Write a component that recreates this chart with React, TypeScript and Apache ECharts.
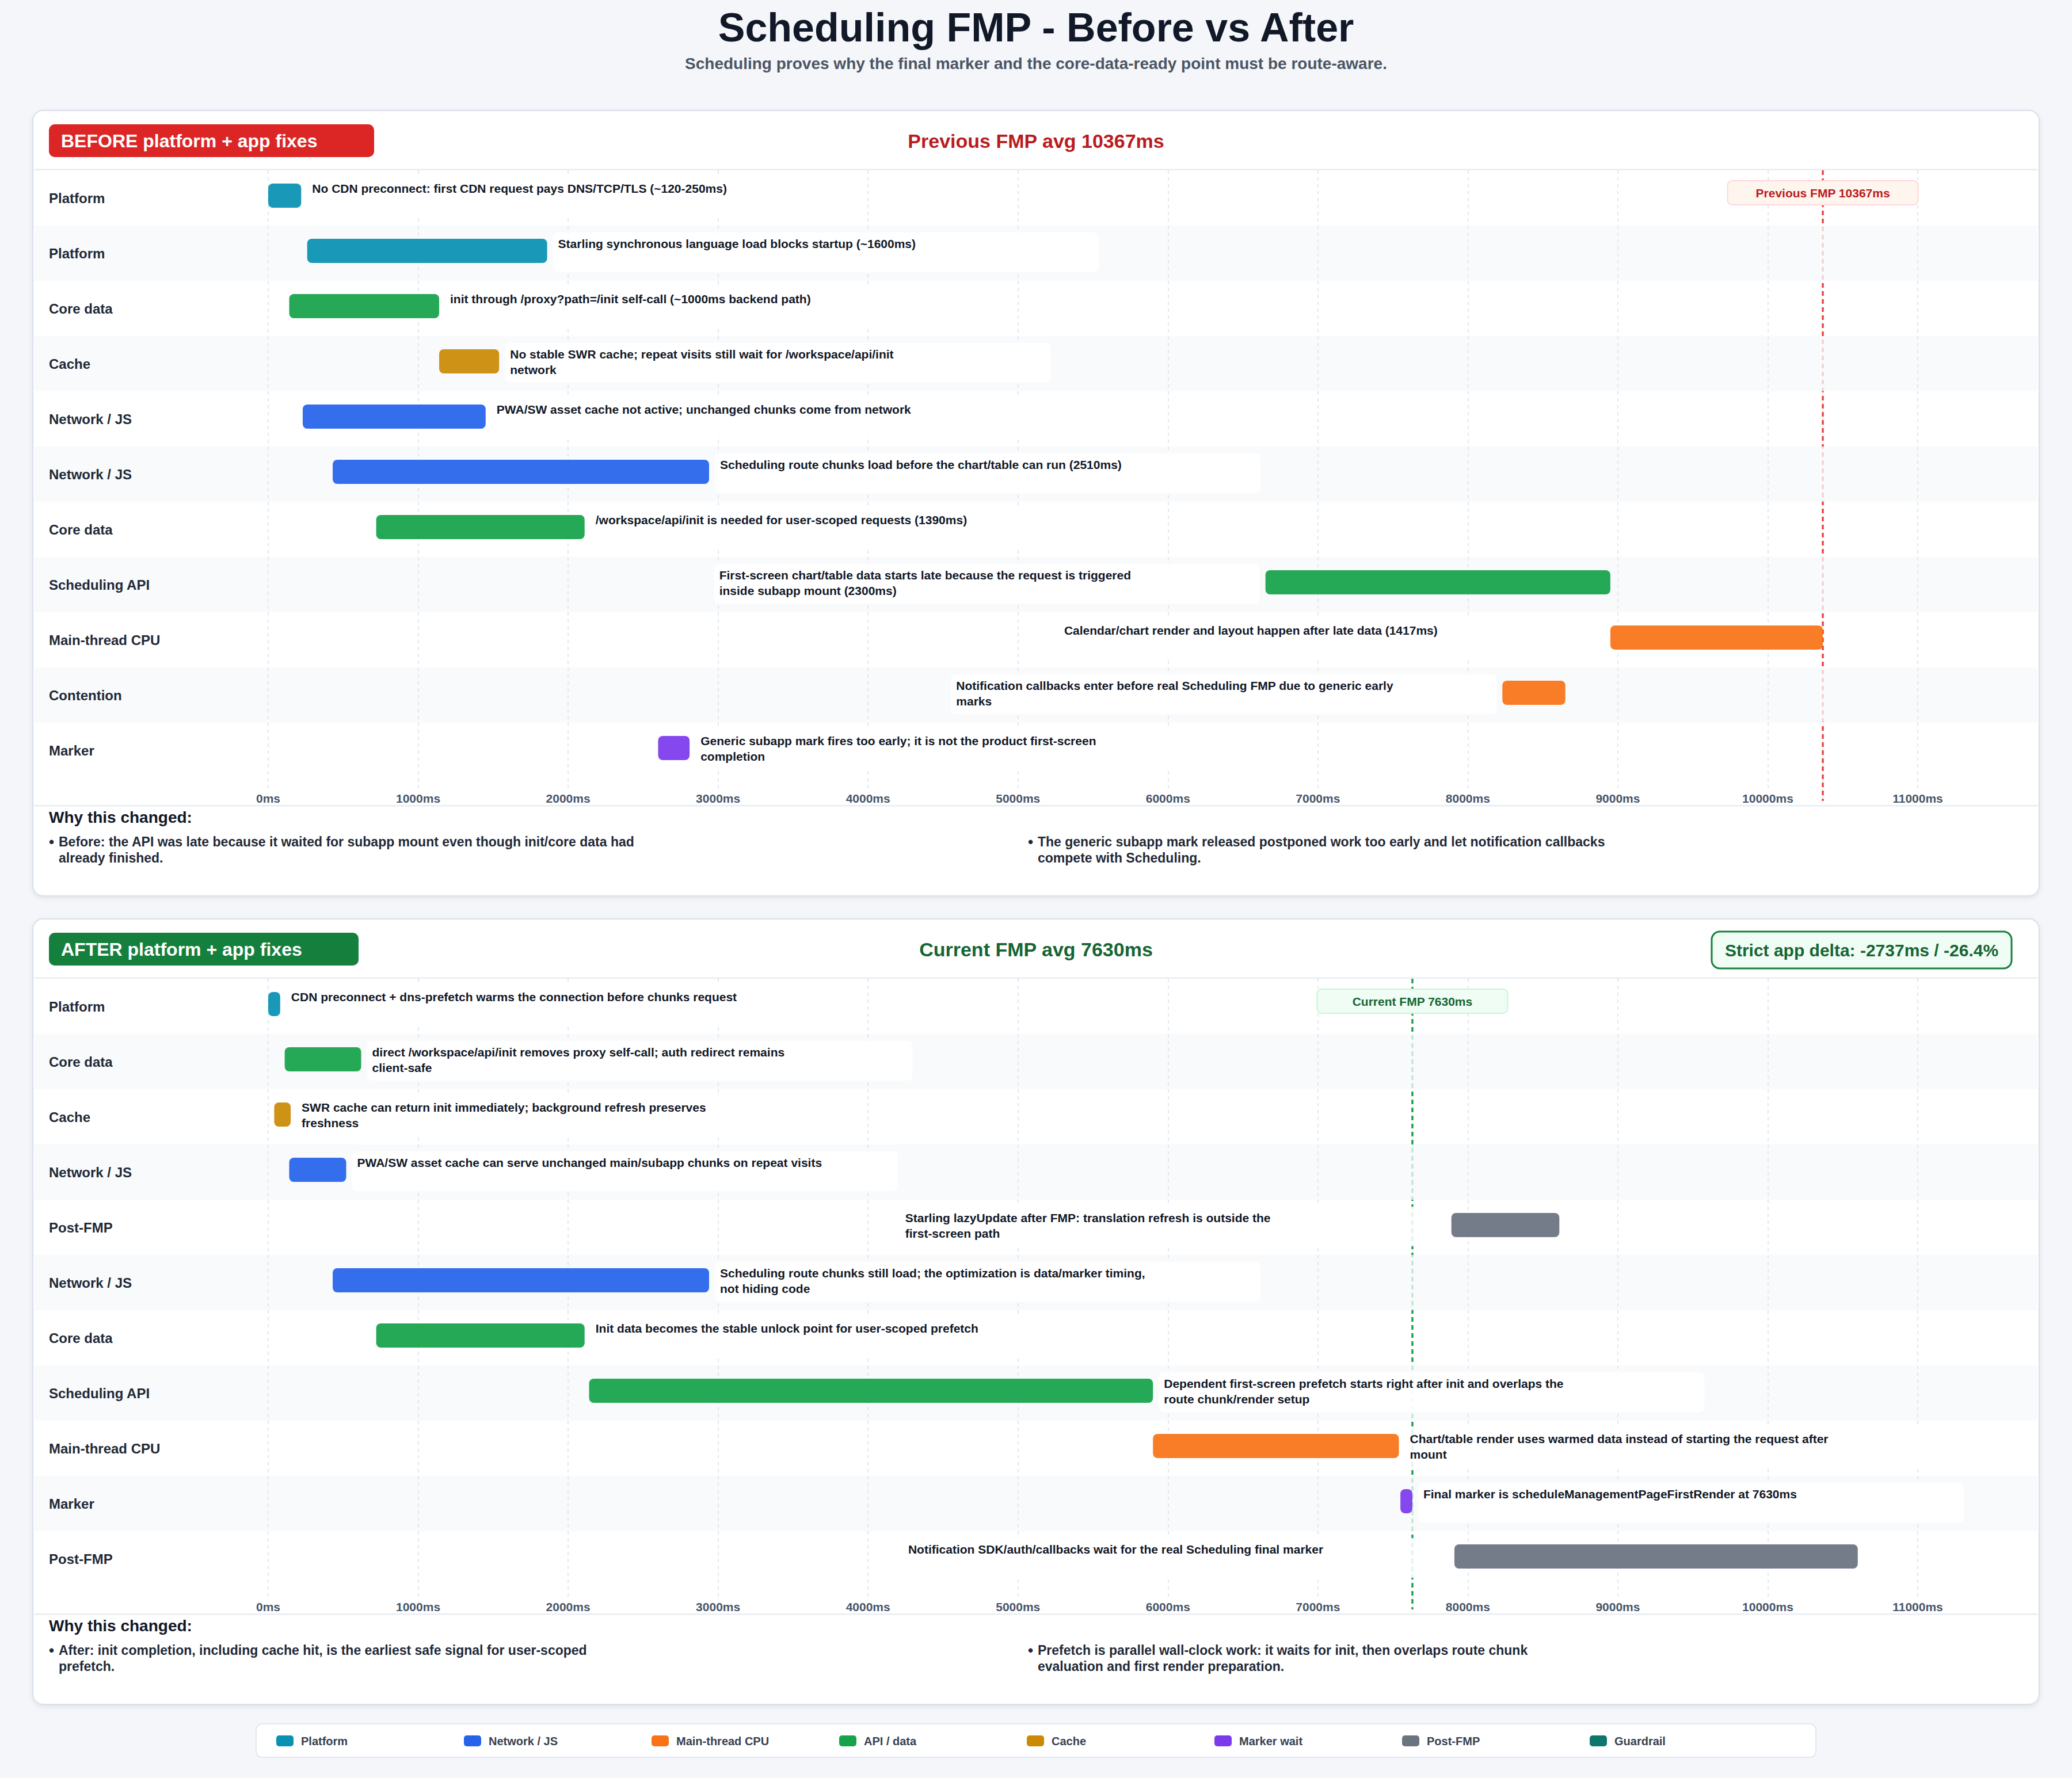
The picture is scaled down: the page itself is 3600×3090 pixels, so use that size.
import React, { useEffect, useRef } from "react";
import * as echarts from "echarts";

// ---------- DATA ----------
const BEFORE_ROWS = ["Platform", "Platform", "Core data", "Cache", "Network / JS", "Network / JS", "Core data", "Scheduling API", "Main-thread CPU", "Contention", "Marker"];
const BEFORE_START = [0, 260, 140, 1140, 230, 430, 720, 6650, 8950, 8230, 2600];
const BEFORE_END = [220, 1860, 1140, 1540, 1450, 2940, 2110, 8950, 10367, 8650, 2810];
const BEFORE_KIND = ["platform", "platform", "api", "cache", "network", "network", "api", "api", "cpu", "cpu", "marker"];
const BEFORE_NOTES = [
  "No CDN preconnect: first CDN request pays DNS/TCP/TLS (~120-250ms)",
  "Starling synchronous language load blocks startup (~1600ms)",
  "init through /proxy?path=/init self-call (~1000ms backend path)",
  "No stable SWR cache; repeat visits still wait for /workspace/api/init\nnetwork",
  "PWA/SW asset cache not active; unchanged chunks come from network",
  "Scheduling route chunks load before the chart/table can run (2510ms)",
  "/workspace/api/init is needed for user-scoped requests (1390ms)",
  "First-screen chart/table data starts late because the request is triggered\ninside subapp mount (2300ms)",
  "Calendar/chart render and layout happen after late data (1417ms)",
  "Notification callbacks enter before real Scheduling FMP due to generic early\nmarks",
  "Generic subapp mark fires too early; it is not the product first-screen\ncompletion",
];
const BEFORE_FMP = 10367;
const BEFORE_WHY = [
  "Before: the API was late because it waited for subapp mount even though init/core data had\nalready finished.",
  "The generic subapp mark released postponed work too early and let notification callbacks\ncompete with Scheduling.",
];

const AFTER_ROWS = ["Platform", "Core data", "Cache", "Network / JS", "Post-FMP", "Network / JS", "Core data", "Scheduling API", "Main-thread CPU", "Marker", "Post-FMP"];
const AFTER_START = [0, 110, 40, 140, 7890, 430, 720, 2140, 5900, 7550, 7910];
const AFTER_END = [80, 620, 150, 520, 8610, 2940, 2110, 5900, 7540, 7630, 10600];
const AFTER_KIND = ["platform", "api", "cache", "network", "post", "network", "api", "api", "cpu", "marker", "post"];
const AFTER_NOTES = [
  "CDN preconnect + dns-prefetch warms the connection before chunks request",
  "direct /workspace/api/init removes proxy self-call; auth redirect remains\nclient-safe",
  "SWR cache can return init immediately; background refresh preserves\nfreshness",
  "PWA/SW asset cache can serve unchanged main/subapp chunks on repeat visits",
  "Starling lazyUpdate after FMP: translation refresh is outside the\nfirst-screen path",
  "Scheduling route chunks still load; the optimization is data/marker timing,\nnot hiding code",
  "Init data becomes the stable unlock point for user-scoped prefetch",
  "Dependent first-screen prefetch starts right after init and overlaps the\nroute chunk/render setup",
  "Chart/table render uses warmed data instead of starting the request after\nmount",
  "Final marker is scheduleManagementPageFirstRender at 7630ms",
  "Notification SDK/auth/callbacks wait for the real Scheduling final marker",
];
const AFTER_FMP = 7630;
const AFTER_WHY = [
  "After: init completion, including cache hit, is the earliest safe signal for user-scoped\nprefetch.",
  "Prefetch is parallel wall-clock work: it waits for init, then overlaps route chunk\nevaluation and first render preparation.",
];

const LEGEND_KEYS = ["platform", "network", "cpu", "api", "cache", "marker", "post", "guardrail"];
const LEGEND_NAMES = ["Platform", "Network / JS", "Main-thread CPU", "API / data", "Cache", "Marker wait", "Post-FMP", "Guardrail"];

const KIND_COLOR: Record<string, string> = {
  platform: "#0891b2",
  network: "#2563eb",
  cpu: "#f97316",
  api: "#16a34a",
  cache: "#ca8a04",
  marker: "#7c3aed",
  post: "#6b7280",
  guardrail: "#0f766e",
};

const AXIS_MAX = 11000;
const AXIS_STEP = 1000;

// ---------- LAYOUT ----------
const FONT = "'Liberation Sans', Arial, Helvetica, sans-serif";
const W = 3600;
const H = 3090;
const CARD_X = 57;
const CARD_W = 3486;
const CARD_H = 1365;
const CARD_TOPS = [192, 1597];
const HEAD_H = 104;
const ROW_H = 96;
const PLOT_LEFT = 466;
const PLOT_W = 2866;
const BOX_W = 948;
const BOX_GAP = 10;

function buildPanel(p: number, cfg: any) {
  const cardTop = CARD_TOPS[p];
  const rowsTop = cardTop + HEAD_H;
  const n = cfg.rows.length;
  const rowsEnd = rowsTop + n * ROW_H;
  const isBefore = p === 0;
  const accent = isBefore ? "#b91c1c" : "#166534";
  const lineColor = isBefore ? "#ef4444" : "#16a34a";

  const graphics: any[] = [
    {
      type: "rect",
      z: 0,
      shape: { x: CARD_X, y: cardTop, width: CARD_W, height: CARD_H, r: 18 },
      style: { fill: "#ffffff", stroke: "#d9e0ea", lineWidth: 2, shadowBlur: 8, shadowOffsetY: 3, shadowColor: "rgba(15,23,42,0.08)" },
    },
    {
      type: "rect",
      z: 10,
      shape: { x: 85, y: cardTop + 24, width: isBefore ? 565 : 538, height: 57, r: 10 },
      style: { fill: isBefore ? "#dc2626" : "#15803d" },
    },
    {
      type: "text",
      z: 11,
      x: 106,
      y: cardTop + 52.5,
      style: { text: cfg.badge, fill: "#ffffff", fontSize: 32, fontWeight: "bold", fontFamily: FONT, align: "left", verticalAlign: "middle" },
    },
    {
      type: "text",
      z: 11,
      x: 1800,
      y: cardTop + 52.5,
      style: { text: cfg.header, fill: accent, fontSize: 34, fontWeight: "bold", fontFamily: FONT, align: "center", verticalAlign: "middle" },
    },
    {
      type: "rect",
      z: 10,
      shape: { x: CARD_X + 2, y: rowsTop - 2.5, width: CARD_W - 4, height: 2.5 },
      style: { fill: "#e8edf3" },
    },
    {
      type: "rect",
      z: 10,
      shape: { x: CARD_X + 2, y: rowsEnd + 47, width: CARD_W - 4, height: 2.5 },
      style: { fill: "#e8edf3" },
    },
    {
      type: "text",
      z: 11,
      x: 85,
      y: rowsEnd + 68,
      style: { text: "Why this changed:", fill: "#111827", fontSize: 28, fontWeight: "bold", fontFamily: FONT, align: "left", verticalAlign: "middle" },
    },
  ];
  const bulletX = [85, 1786];
  cfg.why.forEach((t: string, k: number) => {
    graphics.push({
      type: "text",
      z: 11,
      x: bulletX[k],
      y: rowsEnd + 111,
      style: { text: "•", fill: "#1f2937", fontSize: 26, fontWeight: "bold", fontFamily: FONT, align: "left", verticalAlign: "middle" },
    });
    graphics.push({
      type: "text",
      z: 11,
      x: bulletX[k] + 17,
      y: rowsEnd + 97,
      style: { text: t, fill: "#1f2937", fontSize: 23, fontWeight: "bold", fontFamily: FONT, lineHeight: 28, align: "left", verticalAlign: "top" },
    });
  });
  if (cfg.delta) {
    graphics.push({
      type: "rect",
      z: 10,
      shape: { x: 2974, y: cardTop + 22, width: 521, height: 64, r: 14 },
      style: { fill: "#f0fdf4", stroke: "#15803d", lineWidth: 3 },
    });
    graphics.push({
      type: "text",
      z: 11,
      x: 2974 + 260.5,
      y: cardTop + 54,
      style: { text: cfg.delta, fill: "#166534", fontSize: 30, fontWeight: "bold", fontFamily: FONT, align: "center", verticalAlign: "middle" },
    });
  }

  const grid = { left: PLOT_LEFT, top: rowsTop, width: PLOT_W, height: n * ROW_H };
  const xAxis = {
    type: "value",
    gridIndex: p,
    min: 0,
    max: AXIS_MAX,
    interval: AXIS_STEP,
    z: 4,
    axisLine: { show: false },
    axisTick: { show: true, length: 23, lineStyle: { color: "#e2e8f0", width: 2, type: [6, 6] } },
    splitLine: { show: true, lineStyle: { color: "#e2e8f0", width: 2, type: [6, 6] } },
    axisLabel: {
      formatter: (v: number) => `${v}ms`,
      color: "#475569",
      fontSize: 21,
      fontWeight: "bold",
      fontFamily: FONT,
      margin: 25,
    },
  };
  const yAxis = {
    type: "category",
    gridIndex: p,
    data: cfg.rows,
    inverse: true,
    z: 4,
    axisLine: { show: false },
    axisTick: { show: false },
    splitLine: { show: false },
    axisLabel: { align: "left", margin: PLOT_LEFT - 85, fontSize: 24, fontWeight: "bold", color: "#1f2937", fontFamily: FONT, interval: 0 },
  };

  const rowIdx = cfg.rows.map((_: string, i: number) => [0, i]);
  const barData = cfg.start.map((s: number, i: number) => [s, cfg.end[i], i]);

  const series: any[] = [
    {
      type: "custom",
      name: `fmpLine${p}`,
      xAxisIndex: p,
      yAxisIndex: p,
      z: 2,
      clip: false,
      silent: true,
      encode: { x: 0, y: 1 },
      data: [[cfg.fmp, 0]],
      renderItem: (params: any, api: any) => {
        const pt = api.coord([api.value(0), 0]);
        const cs = params.coordSys;
        return {
          type: "line",
          shape: { x1: pt[0], y1: cs.y, x2: pt[0], y2: cs.y + cs.height + 40 },
          style: { stroke: lineColor, lineWidth: 3.5, lineDash: [8, 6] },
        };
      },
    },
    {
      type: "custom",
      name: `stripes${p}`,
      xAxisIndex: p,
      yAxisIndex: p,
      z: 3,
      clip: false,
      silent: true,
      encode: { x: 0, y: 1 },
      data: rowIdx,
      renderItem: (params: any, api: any) => {
        const r = api.value(1);
        if (r % 2 !== 1) return { type: "group", children: [] };
        const c = api.coord([0, r]);
        const bh = api.size([0, 1])[1];
        return {
          type: "rect",
          shape: { x: CARD_X + 2, y: c[1] - bh / 2, width: CARD_W - 4, height: bh },
          style: { fill: "rgba(246,248,251,0.78)" },
        };
      },
    },
    {
      type: "custom",
      name: `bars${p}`,
      xAxisIndex: p,
      yAxisIndex: p,
      z: 5,
      clip: false,
      encode: { x: [0, 1], y: 2 },
      data: barData,
      renderItem: (params: any, api: any) => {
        const row = api.value(2);
        const s = api.coord([api.value(0), row]);
        const e = api.coord([api.value(1), row]);
        const bh = api.size([0, 1])[1];
        const top = s[1] - bh / 2;
        const idx = params.dataIndex;
        const color = KIND_COLOR[cfg.kind[idx]];
        const goLeft = e[0] + BOX_GAP + BOX_W > CARD_X + CARD_W - 20;
        const boxX = goLeft ? s[0] - BOX_GAP - BOX_W : e[0] + BOX_GAP;
        return {
          type: "group",
          children: [
            { type: "rect", shape: { x: boxX, y: top + 12, width: BOX_W, height: 69, r: 8 }, style: { fill: "rgba(255,255,255,0.88)" } },
            { type: "rect", shape: { x: s[0], y: top + 23, width: Math.max(e[0] - s[0], 6), height: 42, r: 8 }, style: { fill: color, opacity: 0.93 } },
            {
              type: "text",
              x: boxX + 9,
              y: top + 18,
              style: { text: cfg.notes[idx], fill: "#111827", fontSize: 21, fontWeight: "bold", fontFamily: FONT, lineHeight: 27, align: "left", verticalAlign: "top" },
            },
          ],
        };
      },
    },
    {
      type: "custom",
      name: `fmpLabel${p}`,
      xAxisIndex: p,
      yAxisIndex: p,
      z: 6,
      clip: false,
      silent: true,
      encode: { x: 0, y: 1 },
      data: [[cfg.fmp, 0]],
      renderItem: (params: any, api: any) => {
        const pt = api.coord([api.value(0), 0]);
        const cs = params.coordSys;
        const bw = 331;
        return {
          type: "group",
          children: [
            {
              type: "rect",
              shape: { x: pt[0] - bw / 2, y: cs.y + 18, width: bw, height: 42, r: 8 },
              style: { fill: isBefore ? "#fff5ef" : "#effdf4", stroke: isBefore ? "#fed7d7" : "#c6f6d5", lineWidth: 2 },
            },
            {
              type: "text",
              x: pt[0],
              y: cs.y + 39.5,
              style: { text: cfg.fmpLabel, fill: accent, fontSize: 21, fontWeight: "bold", fontFamily: FONT, align: "center", verticalAlign: "middle" },
            },
          ],
        };
      },
    },
  ];
  return { graphics, grid, xAxis, yAxis, series };
}

function buildOption() {
  const delta = AFTER_FMP - BEFORE_FMP;
  const pct = ((delta / BEFORE_FMP) * 100).toFixed(1);
  const before = buildPanel(0, {
    rows: BEFORE_ROWS,
    start: BEFORE_START,
    end: BEFORE_END,
    kind: BEFORE_KIND,
    notes: BEFORE_NOTES,
    fmp: BEFORE_FMP,
    why: BEFORE_WHY,
    badge: "BEFORE platform + app fixes",
    header: `Previous FMP avg ${BEFORE_FMP}ms`,
    fmpLabel: `Previous FMP ${BEFORE_FMP}ms`,
  });
  const after = buildPanel(1, {
    rows: AFTER_ROWS,
    start: AFTER_START,
    end: AFTER_END,
    kind: AFTER_KIND,
    notes: AFTER_NOTES,
    fmp: AFTER_FMP,
    why: AFTER_WHY,
    badge: "AFTER platform + app fixes",
    header: `Current FMP avg ${AFTER_FMP}ms`,
    fmpLabel: `Current FMP ${AFTER_FMP}ms`,
    delta: `Strict app delta: ${delta}ms / ${pct}%`,
  });

  const graphics: any[] = [
    {
      type: "text",
      z: 11,
      x: W / 2,
      y: 48,
      style: { text: "Scheduling FMP - Before vs After", fill: "#111827", fontSize: 70, fontWeight: "bold", fontFamily: FONT, align: "center", verticalAlign: "middle" },
    },
    {
      type: "text",
      z: 11,
      x: W / 2,
      y: 110,
      style: {
        text: "Scheduling proves why the final marker and the core-data-ready point must be route-aware.",
        fill: "#4b5563",
        fontSize: 28,
        fontWeight: "bold",
        fontFamily: FONT,
        align: "center",
        verticalAlign: "middle",
      },
    },
    ...before.graphics,
    ...after.graphics,
    {
      type: "rect",
      z: 10,
      shape: { x: 445, y: 2996, width: 2710, height: 58, r: 10 },
      style: { fill: "#ffffff", stroke: "#e2e8f0", lineWidth: 2 },
    },
  ];
  LEGEND_KEYS.forEach((k, i) => {
    const x = 480 + 326 * i;
    graphics.push({
      type: "rect",
      z: 11,
      shape: { x, y: 3016, width: 30, height: 19, r: 5 },
      style: { fill: KIND_COLOR[k] },
    });
    graphics.push({
      type: "text",
      z: 11,
      x: x + 43,
      y: 3025.5,
      style: { text: LEGEND_NAMES[i], fill: "#374151", fontSize: 20, fontWeight: "bold", fontFamily: FONT, align: "left", verticalAlign: "middle" },
    });
  });

  return {
    animation: false,
    backgroundColor: "#f4f6fa",
    textStyle: { fontFamily: FONT },
    graphic: { elements: graphics },
    grid: [before.grid, after.grid],
    xAxis: [before.xAxis, after.xAxis],
    yAxis: [before.yAxis, after.yAxis],
    series: [...before.series, ...after.series],
  };
}

export default function App() {
  const ref = useRef<HTMLDivElement>(null);
  useEffect(() => {
    document.body.style.margin = "0";
    const chart = echarts.init(ref.current as HTMLDivElement, undefined, { renderer: "svg" });
    chart.setOption(buildOption() as any);
    return () => {
      chart.dispose();
    };
  }, []);
  return <div ref={ref} style={{ width: W, height: H }} />;
}
